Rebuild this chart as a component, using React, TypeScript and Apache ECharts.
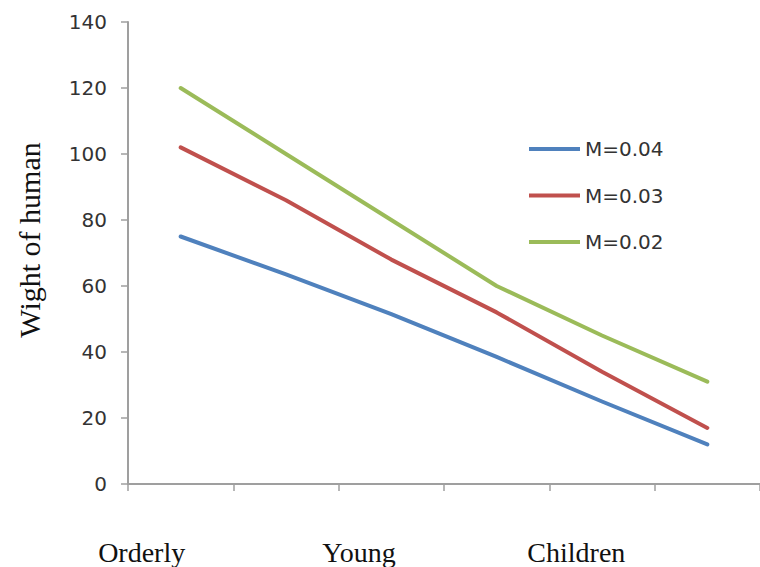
import React, { useEffect, useRef } from "react";
import * as echarts from "echarts";

const stagePoints = ["1", "2", "3", "4", "5", "6"];
const groupLabels = ["Orderly", "Young", "Children"];
const seriesNames = ["M=0.04", "M=0.03", "M=0.02"];
const m004 = [75, 63.5, 51.5, 38.5, 25, 12];
const m003 = [102, 86, 68, 52, 34, 17];
const m002 = [120, 100, 80, 60, 45, 31];
const yTicks = { min: 0, max: 140, interval: 20 };
const colors = ["#4F81BD", "#C0504D", "#9BBB59"];

export default function App() {
  const ref = useRef<HTMLDivElement>(null);
  useEffect(() => {
    if (!ref.current) return;
    const chart = echarts.init(ref.current, null, { renderer: "svg" });
    const axisColor = "#9f9f9f";
    const values = [m004, m003, m002];
    chart.setOption({
      animation: false,
      backgroundColor: "#ffffff",
      grid: [
        { left: 128, top: 22, width: 639, height: 462 },
        { left: 33, top: 22, width: 652, height: 462 },
      ],
      legend: {
        orient: "vertical",
        left: 529,
        top: 137,
        padding: 0,
        icon: "rect",
        itemWidth: 51,
        itemHeight: 4,
        itemGap: 22.5,
        data: seriesNames,
        textStyle: {
          fontFamily: "DejaVu Sans",
          fontSize: 20,
          lineHeight: 24,
          color: "#333333",
        },
      },
      xAxis: [
        {
          type: "category",
          gridIndex: 0,
          data: stagePoints,
          boundaryGap: true,
          axisLine: { lineStyle: { color: axisColor, width: 2 } },
          axisTick: { show: true, length: 7, lineStyle: { color: axisColor, width: 1.5 } },
          axisLabel: { show: false },
          splitLine: { show: false },
        },
        {
          type: "category",
          gridIndex: 1,
          data: groupLabels,
          boundaryGap: true,
          axisLine: { show: false },
          axisTick: { show: false },
          splitLine: { show: false },
          axisLabel: {
            interval: 0,
            margin: 54,
            fontFamily: "Liberation Serif",
            fontSize: 28,
            color: "#111111",
          },
        },
      ],
      yAxis: [
        {
          type: "value",
          gridIndex: 0,
          min: yTicks.min,
          max: yTicks.max,
          interval: yTicks.interval,
          axisLine: { show: true, lineStyle: { color: axisColor, width: 2 } },
          axisTick: { show: true, length: 7, lineStyle: { color: axisColor, width: 1.5 } },
          splitLine: { show: false },
          axisLabel: {
            margin: 21,
            fontFamily: "DejaVu Sans",
            fontSize: 20,
            color: "#333333",
          },
        },
        {
          type: "value",
          gridIndex: 1,
          min: yTicks.min,
          max: yTicks.max,
          show: false,
        },
      ],
      graphic: [
        {
          type: "text",
          x: 29,
          y: 240,
          rotation: Math.PI / 2,
          style: {
            text: "Wight of human",
            fontFamily: "Liberation Serif",
            fontSize: 30,
            fill: "#111111",
            align: "center",
            verticalAlign: "middle",
          },
        },
      ],
      series: seriesNames.map((name, i) => ({
        name,
        type: "line",
        xAxisIndex: 0,
        yAxisIndex: 0,
        data: values[i],
        showSymbol: false,
        symbol: "none",
        itemStyle: { color: colors[i] },
        lineStyle: { color: colors[i], width: 4, cap: "round", join: "round" },
      })),
    });
    return () => chart.dispose();
  }, []);
  return (
    <div
      ref={ref}
      style={{ position: "absolute", left: 0, top: 0, width: 760, height: 567 }}
    />
  );
}
